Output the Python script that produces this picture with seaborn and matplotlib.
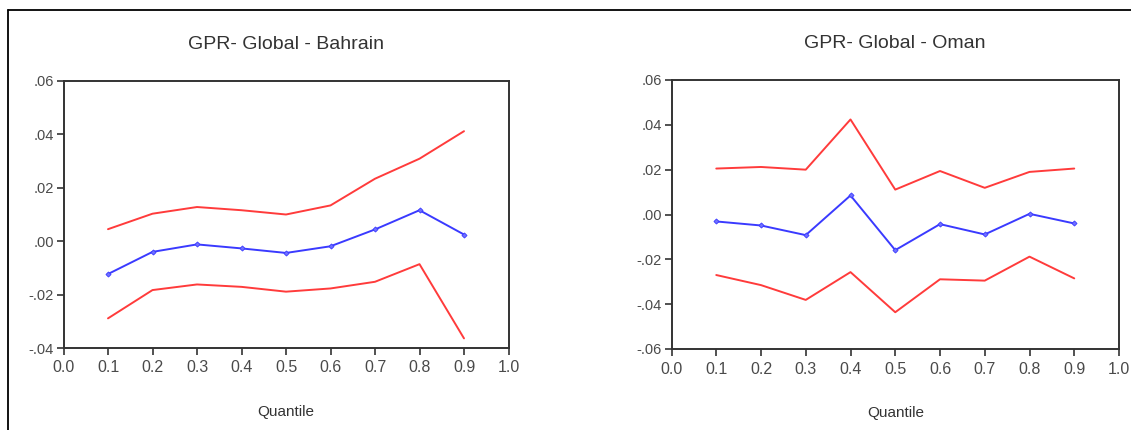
import matplotlib
matplotlib.use("Agg")
import matplotlib.pyplot as plt
from matplotlib.ticker import FuncFormatter, MultipleLocator
from matplotlib.lines import Line2D
import seaborn as sns
import pandas as pd

quantiles = [0.1, 0.2, 0.3, 0.4, 0.5, 0.6, 0.7, 0.8, 0.9]

bahrain_coef = [-0.0123, -0.0040, -0.0012, -0.0027, -0.0044, -0.0019, 0.0044, 0.0116, 0.0025]
bahrain_upper = [0.0045, 0.0103, 0.0128, 0.0116, 0.0100, 0.0134, 0.0234, 0.0309, 0.0412]
bahrain_lower = [-0.0289, -0.0183, -0.0162, -0.0171, -0.0189, -0.0177, -0.0152, -0.0086, -0.0364]

oman_coef = [-0.0031, -0.0049, -0.0092, 0.0085, -0.0159, -0.0043, -0.0089, 0.0003, -0.0040]
oman_upper = [0.0205, 0.0212, 0.0200, 0.0424, 0.0111, 0.0194, 0.0119, 0.0190, 0.0205]
oman_lower = [-0.0270, -0.0315, -0.0381, -0.0257, -0.0436, -0.0289, -0.0295, -0.0188, -0.0285]

titles = ["GPR- Global - Bahrain", "GPR- Global - Oman"]
x_label = "Quantile"

sns.set_style("white")
plt.rcParams['font.family'] = ['Liberation Sans', 'DejaVu Sans']

W, H = 1131, 430
fig = plt.figure(figsize=(W / 100, H / 100), dpi=100)

panels = [
    dict(coef=bahrain_coef, upper=bahrain_upper, lower=bahrain_lower,
         ylim=(-0.04, 0.06), rect=(63.5, 81, 508.5, 348)),
    dict(coef=oman_coef, upper=oman_upper, lower=oman_lower,
         ylim=(-0.06, 0.06), rect=(671.5, 80, 1119, 349)),
]

fmt = FuncFormatter(lambda v, p: f"{v:.2f}".replace("0.", ".", 1))
text_col = "#4a4a4a"
red = "#ff3b3b"
blue = "#3a3aff"

for title, pnl in zip(titles, panels):
    x0, y0, x1, y1 = pnl["rect"]
    ax = fig.add_axes([x0 / W, 1 - y1 / H, (x1 - x0) / W, (y1 - y0) / H])
    df = pd.DataFrame({"q": quantiles, "coef": pnl["coef"],
                       "upper": pnl["upper"], "lower": pnl["lower"]})
    sns.lineplot(data=df, x="q", y="upper", ax=ax, color=red, lw=1.4)
    sns.lineplot(data=df, x="q", y="lower", ax=ax, color=red, lw=1.4)
    sns.lineplot(data=df, x="q", y="coef", ax=ax, color=blue, lw=1.4,
                 marker="D", markersize=2.6, markeredgewidth=0.6,
                 markeredgecolor=blue, markerfacecolor="#7070ff")
    ax.set_xlim(0.0, 1.0)
    ax.set_ylim(*pnl["ylim"])
    ax.xaxis.set_major_locator(MultipleLocator(0.1))
    ax.yaxis.set_major_locator(MultipleLocator(0.02))
    ax.xaxis.set_major_formatter(FuncFormatter(lambda v, p: f"{v:.1f}"))
    ax.yaxis.set_major_formatter(fmt)
    ax.tick_params(axis="both", direction="out", length=5, width=1.2,
                   color="#333333", labelcolor=text_col, labelsize=10.5,
                   left=True, bottom=True, top=False, right=False, pad=2)
    ax.tick_params(axis="x", labelsize=11.5, pad=4)
    for s in ax.spines.values():
        s.set_visible(True)
        s.set_color("#333333")
        s.set_linewidth(1.4)
    ax.set_title(title, fontsize=14, color="#333333", pad=23)
    ax.set_xlabel(x_label, fontsize=11, color="#333333", labelpad=21)
    ax.set_ylabel("")

# outer frame lines (top and left)
fig.add_artist(Line2D([8 / W, 8 / W], [0, 1 - 10 / H], transform=fig.transFigure,
                      color="black", lw=1.3))
fig.add_artist(Line2D([8 / W, 1], [1 - 10 / H, 1 - 10 / H], transform=fig.transFigure,
                      color="black", lw=1.3))

fig.savefig("out.png", dpi=100, facecolor="white")
